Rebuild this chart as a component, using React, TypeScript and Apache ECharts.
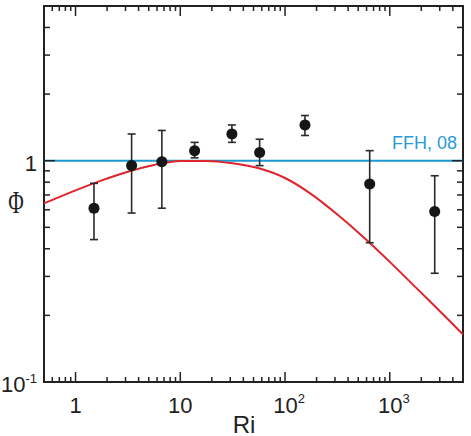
import React, { useEffect, useRef } from 'react';
import * as echarts from 'echarts';

// Measured points (Ri, Φ) with error bars
const riPoints = [1.5, 3.43, 6.67, 13.7, 31.1, 57.2, 155, 643, 2685];
const phiPoints = [0.61, 0.95, 0.99, 1.11, 1.32, 1.09, 1.45, 0.785, 0.59];
const phiLow = [0.44, 0.58, 0.61, 1.03, 1.21, 0.95, 1.3, 0.426, 0.31];
const phiHigh = [0.79, 1.32, 1.37, 1.21, 1.45, 1.25, 1.6, 1.11, 0.855];

// Red model curve
const curveRi = [0.5, 1, 1.78, 3.16, 5.62, 10, 17.8, 31.6, 56.2, 100, 178, 316, 562, 1000, 1778, 3162, 5000];
const curvePhi = [0.641, 0.734, 0.815, 0.892, 0.957, 0.997, 0.998, 0.973, 0.924, 0.835, 0.706, 0.571, 0.451, 0.349, 0.267, 0.204, 0.164];

// FFH, 08 reference line
const ffhRi = [0.5, 5000];
const ffhPhi = [1, 1];

// Axis ranges
const xMin = 0.5;
const xMax = 5000;
const yMin = 0.1;
const yMax = 5;

// Tick positions
const xMajorTicks = [1, 10, 100, 1000];
const xMinorTicks = [0.6, 0.7, 0.8, 0.9, 2, 3, 4, 5, 6, 7, 8, 9, 20, 30, 40, 50, 60, 70, 80, 90, 200, 300, 400, 500, 600, 700, 800, 900, 2000, 3000, 4000];
const yMajorTicks = [0.1, 1];
const yMinorTicks = [0.2, 0.3, 0.4, 0.5, 0.6, 0.7, 0.8, 0.9, 2, 3, 4];

// Tick labels
const xLabelValues = [1, 10, 100, 1000];
const xLabelTexts = ['{b|1}', '{b|10}', '{sp| }{b|10}{s|2}', '{sp| }{b|10}{s|3}'];
const yLabelValues = [0.1, 1];
const yLabelTexts = ['{b|10}{s|-1}', '{b|1}'];

const xAxisTitle = 'Ri';
const yAxisTitle = 'Φ';
const lineLabel = 'FFH, 08';

const findLabel = (vals: number[], texts: string[], v: number) => {
  for (let i = 0; i < vals.length; i++) {
    if (Math.abs(Math.log10(v) - Math.log10(vals[i])) < 1e-6) return texts[i];
  }
  return '';
};

const INK = '#222222';
const richStyles = {
  b: { fontSize: 22, lineHeight: 26, color: INK, fontFamily: 'Liberation Sans' },
  s: { fontSize: 13, lineHeight: 8, verticalAlign: 'top', color: INK, fontFamily: 'Liberation Sans' },
  sp: { fontSize: 13, width: 8, fontFamily: 'Liberation Sans' },
};

export default function App() {
  const ref = useRef<HTMLDivElement>(null);

  useEffect(() => {
    if (!ref.current) return;
    const chart = echarts.init(ref.current, undefined, { renderer: 'svg' });

    const tickStyle = { stroke: INK, lineWidth: 1.5 };

    const xTickData = [
      ...xMajorTicks.map((v) => [v, 1, 1]),
      ...xMinorTicks.map((v) => [v, 1, 0]),
    ];
    const yTickData = [
      ...yMajorTicks.map((v) => [1, v, 1]),
      ...yMinorTicks.map((v) => [1, v, 0]),
    ];

    const option: any = {
      animation: false,
      grid: {
        left: 44,
        right: 8,
        top: 6,
        bottom: 54,
        containLabel: false,
        outerBoundsMode: 'none',
        show: true,
        borderColor: INK,
        borderWidth: 2,
        backgroundColor: 'transparent',
      },
      graphic: [
        {
          type: 'text',
          x: 244,
          y: 424,
          style: {
            text: xAxisTitle,
            fontSize: 24,
            fontFamily: 'Liberation Sans',
            fill: INK,
            align: 'center',
            verticalAlign: 'middle',
          },
        },
        {
          type: 'text',
          x: 16,
          y: 202,
          scaleX: 0.66,
          style: {
            text: yAxisTitle,
            fontSize: 32,
            fontFamily: 'Liberation Serif',
            fill: INK,
            align: 'center',
            verticalAlign: 'middle',
          },
        },
      ],
      xAxis: {
        type: 'log',
        logBase: 10,
        min: xMin,
        max: xMax,
        axisLine: { show: false },
        axisTick: { show: false },
        splitLine: { show: false },
        axisLabel: {
          interval: 0,
          hideOverlap: false,
          margin: 10,
          formatter: (v: number) => findLabel(xLabelValues, xLabelTexts, v),
          rich: richStyles,
        },
      },
      yAxis: {
        type: 'log',
        logBase: 10,
        min: yMin,
        max: yMax,
        axisLine: { show: false },
        axisTick: { show: false },
        splitLine: { show: false },
        axisLabel: {
          interval: 0,
          hideOverlap: false,
          margin: 7,
          padding: [5, 0, 0, 0],
          formatter: (v: number) => findLabel(yLabelValues, yLabelTexts, v),
          rich: richStyles,
        },
      },
      series: [
        {
          type: 'line',
          name: lineLabel,
          data: [
            [ffhRi[0], ffhPhi[0]],
            {
              value: [ffhRi[1], ffhPhi[1]],
              label: {
                show: true,
                formatter: lineLabel,
                position: 'top',
                align: 'right',
                offset: [-6, -4],
                fontSize: 18,
                color: '#2a9bd4',
                fontFamily: 'Liberation Sans',
              },
            },
          ],
          symbol: 'circle',
          symbolSize: 0,
          showSymbol: true,
          lineStyle: { color: '#1d98d3', width: 2 },
          itemStyle: { color: '#1d98d3' },
          z: 2,
          silent: true,
        },
        {
          type: 'line',
          name: 'model',
          data: curveRi.map((x, i) => [x, curvePhi[i]]),
          smooth: 0.3,
          showSymbol: false,
          lineStyle: { color: '#e0242c', width: 2 },
          itemStyle: { color: '#e0242c' },
          z: 3,
          silent: true,
        },
        {
          type: 'custom',
          name: 'errors',
          data: riPoints.map((x, i) => [x, phiLow[i], phiHigh[i]]),
          encode: { x: 0, y: [1, 2] },
          z: 4,
          silent: true,
          renderItem: (params: any, api: any) => {
            const x = api.value(0);
            const lo = api.coord([x, api.value(1)]);
            const hi = api.coord([x, api.value(2)]);
            const w = 4;
            const st = { stroke: '#2a2a2a', lineWidth: 1.6 };
            return {
              type: 'group',
              children: [
                { type: 'line', shape: { x1: lo[0], y1: lo[1], x2: hi[0], y2: hi[1] }, style: st },
                { type: 'line', shape: { x1: lo[0] - w, y1: lo[1], x2: lo[0] + w, y2: lo[1] }, style: st },
                { type: 'line', shape: { x1: hi[0] - w, y1: hi[1], x2: hi[0] + w, y2: hi[1] }, style: st },
              ],
            };
          },
        },
        {
          type: 'scatter',
          name: 'data',
          data: riPoints.map((x, i) => [x, phiPoints[i]]),
          symbol: 'circle',
          symbolSize: 11,
          itemStyle: { color: '#161616', opacity: 1 },
          z: 5,
          silent: true,
        },
        {
          type: 'custom',
          name: 'xticks',
          data: xTickData,
          encode: { x: 0, y: 1 },
          z: 10,
          silent: true,
          clip: false,
          renderItem: (params: any, api: any) => {
            const cs = params.coordSys;
            const x = api.coord([api.value(0), 1])[0];
            const len = api.value(2) ? 10 : 5;
            const bottom = cs.y + cs.height;
            return {
              type: 'group',
              children: [
                { type: 'line', shape: { x1: x, y1: bottom, x2: x, y2: bottom - len }, style: tickStyle },
                { type: 'line', shape: { x1: x, y1: cs.y, x2: x, y2: cs.y + len }, style: tickStyle },
              ],
            };
          },
        },
        {
          type: 'custom',
          name: 'yticks',
          data: yTickData,
          encode: { x: 0, y: 1 },
          z: 10,
          silent: true,
          clip: false,
          renderItem: (params: any, api: any) => {
            const cs = params.coordSys;
            const y = api.coord([1, api.value(1)])[1];
            const len = api.value(2) ? 11 : 6;
            const right = cs.x + cs.width;
            return {
              type: 'group',
              children: [
                { type: 'line', shape: { x1: cs.x, y1: y, x2: cs.x + len, y2: y }, style: tickStyle },
                { type: 'line', shape: { x1: right, y1: y, x2: right - len, y2: y }, style: tickStyle },
              ],
            };
          },
        },
      ],
    };

    chart.setOption(option);
    return () => chart.dispose();
  }, []);

  return <div ref={ref} style={{ width: 471, height: 436, position: 'absolute', left: 0, top: 0 }} />;
}
